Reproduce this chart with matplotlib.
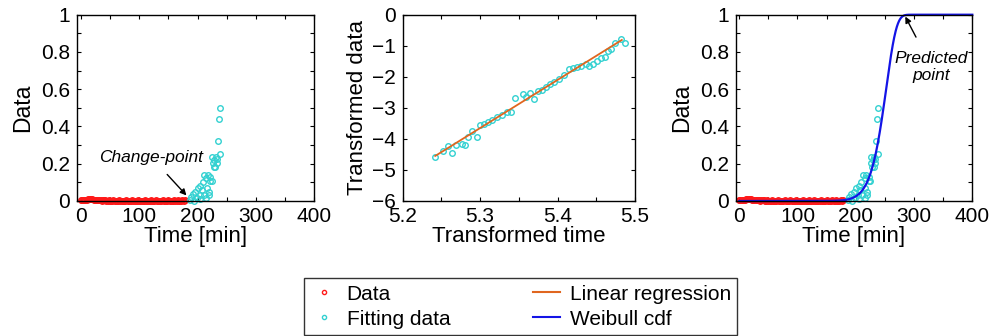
import numpy as np
import matplotlib
matplotlib.use('Agg')
import matplotlib.pyplot as plt
from matplotlib.lines import Line2D
from matplotlib.ticker import MultipleLocator

plt.rcParams['font.family'] = ['Liberation Sans', 'DejaVu Sans']

# red "Data" samples (every 2 min, 0..178)
data_t = np.arange(0, 180, 2)
data_y = [0.003, 0.004, 0.003, 0.005, 0.006, 0.007, 0.009, 0.010, 0.011, 0.010,
          0.009, 0.008, 0.007, 0.005, 0.004, 0.003, 0.004, 0.003, 0.002, 0.003,
          0.004, 0.003, 0.002, 0.002, 0.003, 0.002, 0.001, 0.002, 0.003, 0.002,
          0.002, 0.001, 0.002, 0.003, 0.002, 0.002, 0.001, 0.002, 0.002, 0.003,
          0.002, 0.001, 0.002, 0.002, 0.003, 0.002, 0.002, 0.001, 0.002, 0.003,
          0.002, 0.002, 0.001, 0.002, 0.002, 0.003, 0.002, 0.001, 0.002, 0.002,
          0.003, 0.002, 0.001, 0.002, 0.003, 0.002, 0.002, 0.001, 0.002, 0.002,
          0.003, 0.002, 0.001, 0.002, 0.002, 0.003, 0.002, 0.002, 0.001, 0.002,
          0.003, 0.002, 0.002, 0.003, 0.002, 0.001, 0.002, 0.003, 0.002, 0.003]

# cyan "Fitting data" after the change-point
fit_t = [186.5, 188.9, 192.3, 193.4, 196.3, 199.2, 200.3, 203.7, 204.9, 205.0,
         207.8, 209.5, 210.6, 211.8, 215.2, 215.2, 216.4, 217.5, 219.0, 219.2,
         222.0, 222.0, 225.0, 225.5, 226.7, 228.0, 229.0, 230.7, 231.9, 233.6,
         233.6, 234.2, 236.5, 238.1, 238.1]
fit_y = [0.005, 0.023, 0.036, 0.000, 0.050, 0.014, 0.068, 0.032, 0.082, 0.010,
         0.059, 0.100, 0.032, 0.140, 0.018, 0.122, 0.068, 0.140, 0.050, 0.032,
         0.130, 0.110, 0.107, 0.238, 0.202, 0.184, 0.220, 0.184, 0.238, 0.202,
         0.224, 0.320, 0.438, 0.250, 0.497]

# transformed fitting data (ln t, ln(-ln(1-F)))
tr_x = [5.2421, 5.2520, 5.2589, 5.2637, 5.2694, 5.2772, 5.2802, 5.2845, 5.2897, 5.2954,
        5.2997, 5.3050, 5.3105, 5.3150, 5.3214, 5.3280, 5.3352, 5.3400, 5.3452, 5.3553,
        5.3596, 5.3648, 5.3690, 5.3743, 5.3800, 5.3856, 5.3908, 5.3950, 5.4015, 5.4080,
        5.4145, 5.4202, 5.4254, 5.4297, 5.4362, 5.4405, 5.4462, 5.4514, 5.4557, 5.4609,
        5.4652, 5.4687, 5.4740, 5.4817, 5.4869]
tr_y = [-4.572, -4.380, -4.230, -4.465, -4.196, -4.160, -4.196, -3.930, -3.745, -3.930,
        -3.550, -3.520, -3.445, -3.390, -3.305, -3.230, -3.124, -3.124, -2.690, -2.554,
        -2.660, -2.510, -2.716, -2.447, -2.425, -2.320, -2.232, -2.157, -2.082, -1.940,
        -1.760, -1.728, -1.673, -1.653, -1.590, -1.642, -1.590, -1.480, -1.406, -1.373,
        -1.160, -1.116, -0.900, -0.794, -0.923]

# regression line
reg_slope = 15.5
reg_intercept = -85.8
reg_x = [5.242, 5.483]

red = '#ff1a1a'
cyan = '#33d1d1'
orange = '#e0661f'
blue = '#1414e6'


def style(ax):
    ax.tick_params(which='both', direction='in', top=True, right=True,
                   length=3, width=0.8, labelsize=15)
    ax.tick_params(axis='x', which='both', pad=4)
    ax.tick_params(axis='y', which='both', pad=5)
    for s in ax.spines.values():
        s.set_linewidth(1.0)


fig = plt.figure(figsize=(10.02, 3.36), dpi=100)
b, h = 135 / 336, 186.3 / 336
ax1 = fig.add_axes([77.3 / 1002, b, 237 / 1002, h])
ax2 = fig.add_axes([402.7 / 1002, b, 232.3 / 1002, h])
ax3 = fig.add_axes([735.7 / 1002, b, 236.6 / 1002, h])

# panel 1
ax1.plot(data_t, data_y, 'o', color=red, ms=3.8, mfc='none', mew=1.2, clip_on=False)
ax1.plot(fit_t, fit_y, 'o', color=cyan, ms=4, mfc='none', mew=1, clip_on=False)
ax1.annotate('Change-point', xy=(181, 0.03), xytext=(120.5, 0.236),
             ha='center', va='center', fontsize=12.5, style='italic',
             arrowprops=dict(arrowstyle='-|>', color='k', lw=1, mutation_scale=9,
                             shrinkA=7, shrinkB=0))

# panel 2
ax2.plot(tr_x, tr_y, 'o', color=cyan, ms=4, mfc='none', mew=1)
reg_y = [reg_slope * x + reg_intercept for x in reg_x]
ax2.plot(reg_x, reg_y, '-', color=orange, lw=1.3)
ax2.set_xlim(5.2, 5.5)
ax2.set_ylim(-6, 0)
ax2.xaxis.set_major_locator(MultipleLocator(0.1))
ax2.xaxis.set_minor_locator(MultipleLocator(0.05))
ax2.yaxis.set_major_locator(MultipleLocator(1))
ax2.set_xlabel('Transformed time', fontsize=16, labelpad=0)
ax2.set_ylabel('Transformed data', fontsize=16, labelpad=3)

# panel 3: Weibull cdf from the regression parameters
k = reg_slope
lam = np.exp(-reg_intercept / reg_slope)
tt = np.linspace(0, 400, 801)
cdf = 1 - np.exp(-(tt / lam) ** k)
ax3.plot(data_t, data_y, 'o', color=red, ms=3.8, mfc='none', mew=1.2, clip_on=False)
ax3.plot(fit_t, fit_y, 'o', color=cyan, ms=4, mfc='none', mew=1, clip_on=False)
ax3.plot(tt, cdf, '-', color=blue, lw=1.6, clip_on=False)
ax3.annotate('Predicted\npoint', xy=(285, 0.99), xytext=(330, 0.72),
             ha='center', va='center', fontsize=12.5, style='italic', linespacing=1.15,
             arrowprops=dict(arrowstyle='-|>', color='k', lw=1, mutation_scale=9,
                             shrinkA=9, shrinkB=0))

for ax in (ax1, ax3):
    ax.set_xlim(-6, 400)
    ax.set_ylim(0, 1)
    ax.xaxis.set_major_locator(MultipleLocator(100))
    ax.xaxis.set_minor_locator(MultipleLocator(50))
    ax.yaxis.set_minor_locator(MultipleLocator(0.1))
    ax.set_yticks([0, 0.2, 0.4, 0.6, 0.8, 1], ['0', '0.2', '0.4', '0.6', '0.8', '1'])
    ax.set_xlabel('Time [min]', fontsize=16, labelpad=0)
    ax.set_ylabel('Data', fontsize=16.5, labelpad=5)

for ax in (ax1, ax2, ax3):
    style(ax)

handles = [
    Line2D([], [], ls='none', marker='o', color=red, ms=3, mfc='none', mew=1),
    Line2D([], [], ls='none', marker='o', color=cyan, ms=3, mfc='none', mew=1),
    Line2D([], [], color=orange, lw=1.5),
    Line2D([], [], color=blue, lw=1.5),
]
labels = ['Data', 'Fitting data', 'Linear regression', 'Weibull cdf']
leg = fig.legend(handles, labels, ncol=2, mode='expand', loc='lower left',
                 bbox_to_anchor=(304 / 1002, 1 / 336, 433 / 1002, 61 / 336),
                 fontsize=15, frameon=True, fancybox=False, edgecolor='k',
                 handlelength=1.3, handletextpad=0.45, labelspacing=0.3,
                 borderpad=0.3, borderaxespad=0)
leg.get_frame().set_linewidth(1.0)

fig.savefig('out.png', dpi=100)
